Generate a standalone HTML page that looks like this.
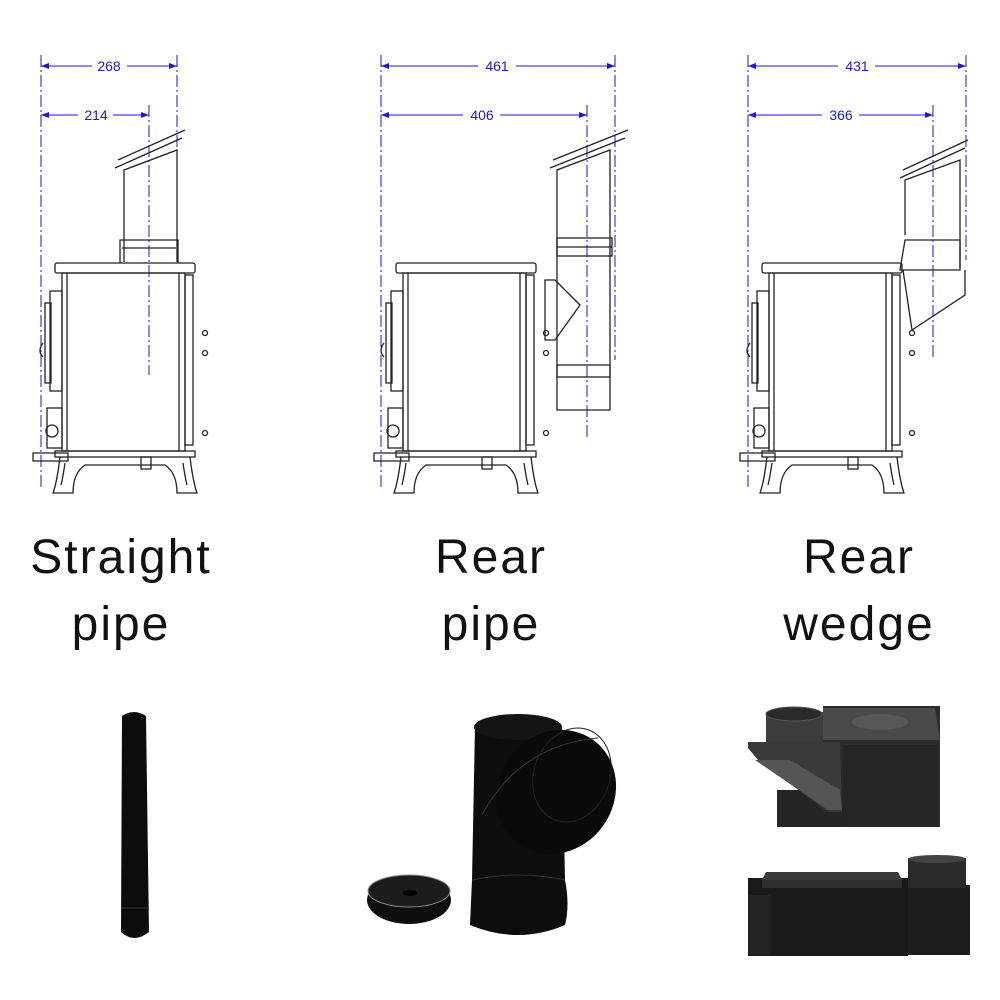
<!DOCTYPE html>
<html><head><meta charset="utf-8"><style>
html,body{margin:0;padding:0;background:#fff;width:1000px;height:1000px;overflow:hidden}
svg{display:block}
</style></head><body>
<svg width="1000" height="1000" viewBox="0 0 1000 1000" xmlns="http://www.w3.org/2000/svg" font-family="Liberation Sans, sans-serif">
<defs>
<marker id="ar" markerWidth="8" markerHeight="6" refX="8" refY="3" orient="auto"><path d="M0,0 L8,3 L0,6 z" fill="#1a1acc"/></marker>
<marker id="al" markerWidth="8" markerHeight="6" refX="0" refY="3" orient="auto"><path d="M8,0 L0,3 L8,6 z" fill="#1a1acc"/></marker>
<g id="stove" fill="none" stroke="#222" stroke-width="1.3">
  <rect x="0" y="0" width="140" height="10" rx="2"/>
  <rect x="7" y="10" width="123" height="178"/>
  <line x1="12" y1="10" x2="12" y2="188"/>
  <line x1="124" y1="10" x2="124" y2="188"/>
  <rect x="130" y="12" width="8" height="170"/>
  <rect x="-5" y="28" width="12" height="100"/>
  <rect x="-10" y="40" width="6" height="80"/>
  <path d="M-12 80 q-6 8 0 14"/>
  <rect x="-8" y="145" width="15" height="40"/>
  <circle cx="-3" cy="168" r="6"/>
  <path d="M-22 190 h35 v8 h-35z"/>
  <rect x="0" y="188" width="140" height="6"/>
  <path d="M5 194 q-3 25 -7 36 h20 q0 -20 12 -28 h80 q12 8 12 28 h20 q-4 -11 -7 -36"/>
  <path d="M10 200 q-2 14 -4 22"/>
  <path d="M128 200 q2 14 4 22"/>
  <rect x="86" y="194" width="10" height="12"/>
  <circle cx="150" cy="70" r="2.5"/><circle cx="150" cy="90" r="2.5"/><circle cx="150" cy="170" r="2.5"/>
</g>
</defs>

<g stroke="#1a1acc" stroke-width="1" fill="none">
  <g stroke-dasharray="12,3,2,3">
    <line x1="41" y1="55" x2="41" y2="490"/><line x1="149" y1="105" x2="149" y2="375"/><line x1="177" y1="55" x2="177" y2="240"/>
    <line x1="381" y1="55" x2="381" y2="490"/><line x1="587" y1="105" x2="587" y2="440"/><line x1="615" y1="55" x2="615" y2="360"/>
    <line x1="748" y1="55" x2="748" y2="490"/><line x1="933" y1="105" x2="933" y2="360"/><line x1="966" y1="55" x2="966" y2="260"/>
  </g>
  <line x1="41" y1="66" x2="92" y2="66" marker-start="url(#al)"/><line x1="127" y1="66" x2="177" y2="66" marker-end="url(#ar)"/>
  <line x1="41" y1="115" x2="78" y2="115" marker-start="url(#al)"/><line x1="113" y1="115" x2="149" y2="115" marker-end="url(#ar)"/>
  <line x1="381" y1="66" x2="478" y2="66" marker-start="url(#al)"/><line x1="516" y1="66" x2="615" y2="66" marker-end="url(#ar)"/>
  <line x1="381" y1="115" x2="463" y2="115" marker-start="url(#al)"/><line x1="500" y1="115" x2="587" y2="115" marker-end="url(#ar)"/>
  <line x1="748" y1="66" x2="838" y2="66" marker-start="url(#al)"/><line x1="875" y1="66" x2="966" y2="66" marker-end="url(#ar)"/>
  <line x1="748" y1="115" x2="822" y2="115" marker-start="url(#al)"/><line x1="859" y1="115" x2="933" y2="115" marker-end="url(#ar)"/>
</g>
<g fill="#1a1acc" font-size="14" text-anchor="middle">
  <text x="109" y="71">268</text><text x="96" y="120">214</text>
  <text x="497" y="71">461</text><text x="482" y="120">406</text>
  <text x="857" y="71">431</text><text x="841" y="120">366</text>
</g>

<use href="#stove" x="55" y="263"/>
<use href="#stove" x="396" y="263"/>
<use href="#stove" x="762" y="263"/>

<g fill="none" stroke="#222" stroke-width="1.3">
  <path d="M124 262 V170 L177 150 V262"/>
  <path d="M120 263 V240 h58 v23"/><line x1="122" y1="248" x2="176" y2="248"/>
  <line x1="115" y1="168" x2="182" y2="138"/><line x1="118" y1="160" x2="185" y2="130"/>
  <path d="M557 410 V170 L610 150 V410 Z"/>
  <line x1="550" y1="168" x2="625" y2="138"/><line x1="553" y1="160" x2="628" y2="130"/>
  <rect x="557" y="238" width="55" height="18"/><line x1="557" y1="247" x2="612" y2="247"/>
  <rect x="557" y="365" width="53" height="12"/>
  <path d="M545 280 h10 l25 25 l-25 35 h-10 z"/>
  <path d="M905 235 V180 L960 160 V268"/>
  <line x1="900" y1="178" x2="965" y2="148"/><line x1="903" y1="170" x2="968" y2="140"/>
  <path d="M905 240 h55 v30 h-60 z"/>
  <path d="M903 270 L912 330 L965 295 V270"/>
</g>

<g font-family="Liberation Sans, sans-serif" font-size="48" fill="#111" text-anchor="middle" letter-spacing="2">
  <text x="121" y="573">Straight</text><text x="121" y="640">pipe</text>
  <text x="491" y="573">Rear</text><text x="491" y="640">pipe</text>
  <text x="859" y="573">Rear</text><text x="859" y="640">wedge</text>
</g>

<path d="M122 716 Q134 708 146 716 L149 932 Q134 944 121 932 Z" fill="#0c0c0c"/>
<line x1="121" y1="908" x2="149" y2="908" stroke="#333"/>

<ellipse cx="409" cy="900" rx="42" ry="24" fill="#0e0e0e"/>
<ellipse cx="409" cy="891" rx="41" ry="16" fill="#1c1c1c" stroke="#888" stroke-width="1"/>
<ellipse cx="410" cy="893" rx="7" ry="3" fill="#000"/>
<path d="M475 727 Q518 703 562 727 L565 880 Q570 905 565 925 Q518 945 470 925 L472 880 Z" fill="#0d0d0d"/>
<ellipse cx="518" cy="727" rx="44" ry="13" fill="#141414"/>
<ellipse cx="556" cy="792" rx="58" ry="64" transform="rotate(35 556 792)" fill="#0a0a0a"/>
<path d="M482 815 Q520 745 598 738" fill="none" stroke="#333" stroke-width="1"/>
<ellipse cx="572" cy="775" rx="38" ry="48" transform="rotate(20 572 775)" fill="none" stroke="#222"/>
<path d="M472 880 Q518 870 565 880" fill="none" stroke="#333"/>

<rect x="823" y="706" width="117" height="121" fill="#2c2c2c"/>
<path d="M823 708 H935 L940 740 H823 Z" fill="#4a4a4a"/>
<ellipse cx="880" cy="722" rx="28" ry="8" fill="#575757"/>
<rect x="777" y="790" width="95" height="37" fill="#252525"/>
<rect x="766" y="712" width="57" height="35" fill="#3c3c3c"/>
<ellipse cx="794" cy="714" rx="28" ry="7" fill="#2a2a2a" stroke="#555"/>
<path d="M748 742 H840 L842 812 H828 L758 760 L748 748 Z" fill="#3a3a3a"/>
<path d="M755 760 L828 810 H842 L840 790 L790 760 Z" fill="#555"/>
<rect x="843" y="745" width="95" height="82" fill="#262626"/>
<rect x="748" y="878" width="160" height="78" fill="#1a1a1a"/>
<path d="M762 880 L766 872 H898 L902 880 Z" fill="#3a3a3a"/>
<rect x="762" y="880" width="140" height="8" fill="#2f2f2f"/>
<rect x="748" y="895" width="22" height="60" fill="#222"/>
<rect x="908" y="885" width="62" height="70" fill="#1d1d1d"/>
<rect x="908" y="858" width="58" height="30" fill="#2a2a2a"/>
<ellipse cx="937" cy="859" rx="29" ry="4" fill="#444"/>
</svg>
</body></html>
